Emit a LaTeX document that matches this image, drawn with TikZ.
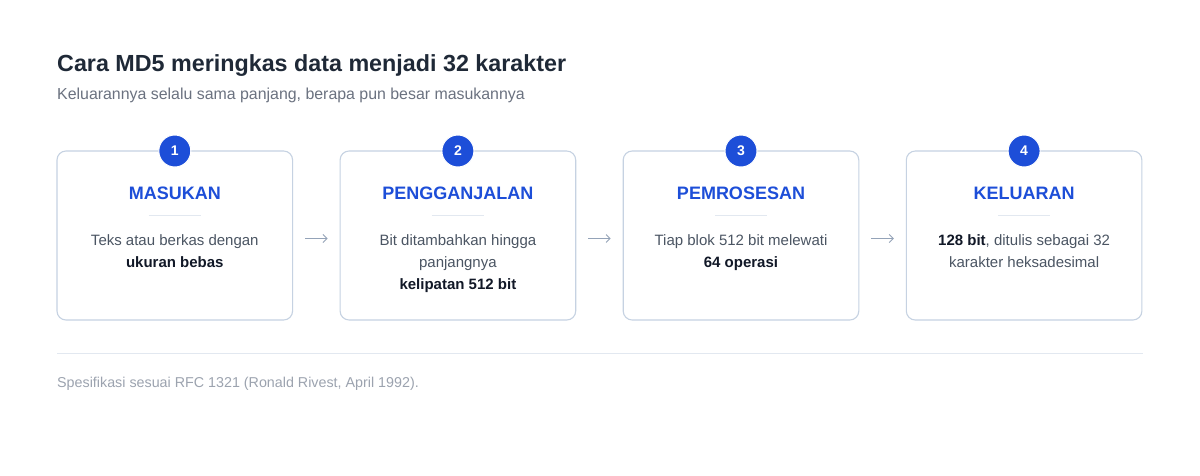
\documentclass[tikz,border=0pt]{standalone}
\usepackage{fontspec}
\setmainfont{Liberation Sans}
\usetikzlibrary{arrows.meta,positioning}

\definecolor{inkdark}{HTML}{1F2937}
\definecolor{inkgray}{HTML}{6B7280}
\definecolor{inkbody}{HTML}{4B5563}
\definecolor{inkbold}{HTML}{111827}
\definecolor{inkfoot}{HTML}{9CA3AF}
\definecolor{mdblue}{HTML}{1D4ED8}
\definecolor{cardline}{HTML}{C6D2E2}
\definecolor{ruleline}{HTML}{E2E8F0}
\definecolor{arrowgray}{HTML}{94A3B8}

\tikzset{
  card/.style={rectangle, draw=cardline, line width=1.1pt, rounded corners=9pt,
    minimum width=235.6pt, minimum height=169pt, inner sep=0pt, outer sep=0pt},
  badge/.style={circle, fill=mdblue, draw=white, line width=1pt, minimum size=32pt,
    inner sep=0pt, text=white, font=\fontsize{14}{16}\selectfont\bfseries},
  head/.style={anchor=base, inner sep=0pt, text=mdblue,
    font=\fontsize{18}{20}\selectfont\bfseries},
  body/.style={anchor=base, inner sep=0pt, text=inkbody, align=center,
    font=\fontsize{15}{22}\selectfont},
  flow/.style={draw=arrowgray, line width=0.9pt, -{Straight Barb[length=4pt,width=8pt]},
    shorten <=12.5pt, shorten >=12.5pt},
}

\begin{document}
\begin{tikzpicture}[x=1pt,y=-1pt]
  \useasboundingbox[fill=white] (0,0) rectangle (1200,475);

  % title
  \node[anchor=base west, inner sep=0pt, text=inkdark,
    font=\fontsize{23.3}{26}\selectfont\bfseries] (title) at (57,71.5)
    {Cara MD5 meringkas data menjadi 32 karakter};
  \node[anchor=base west, inner sep=0pt, text=inkgray,
    font=\fontsize{15.9}{18}\selectfont] (subtitle) at (57,99)
    {Keluarannya selalu sama panjang, berapa pun besar masukannya};

  % cards
  \node[card] (c1) at (174.8,235.5) {};
  \node[card] (c2) [right=47.5pt of c1] {};
  \node[card] (c3) [right=47.5pt of c2] {};
  \node[card] (c4) [right=47.5pt of c3] {};

  \foreach \i/\h in {1/MASUKAN,2/PENGGANJALAN,3/PEMROSESAN,4/KELUARAN}{
    \node[badge] (b\i) at (c\i.north) {\i};
    \node[head] (h\i) at ([yshift=-48.3pt]c\i.north) {\h};
    \draw[ruleline, line width=1pt] ([xshift=-26pt,yshift=-64pt]c\i.north)
      -- ([xshift=26pt,yshift=-64pt]c\i.north);
  }

  % body text (base = last line)
  \node[body] (t1) at ([yshift=-116pt]c1.north)
    {Teks atau berkas dengan\\\textcolor{inkbold}{\bfseries ukuran bebas}};
  \node[body] (t2) at ([yshift=-138pt]c2.north)
    {Bit ditambahkan hingga\\panjangnya\\\textcolor{inkbold}{\bfseries kelipatan 512 bit}};
  \node[body] (t3) at ([yshift=-116pt]c3.north)
    {Tiap blok 512 bit melewati\\\textcolor{inkbold}{\bfseries 64 operasi}};
  \node[body] (t4) at ([yshift=-116pt]c4.north)
    {\textcolor{inkbold}{\bfseries 128 bit}, ditulis sebagai 32\\karakter heksadesimal};

  % arrows between cards
  \foreach \a/\b in {c1/c2,c2/c3,c3/c4}
    \draw[flow] ([yshift=-3pt]\a.east) -- ([yshift=-3pt]\b.west);

  % footer
  \coordinate (rl) at (57,353);
  \coordinate (rr) at (1143,353);
  \draw[ruleline, line width=1pt] (rl) -- (rr);
  \node[anchor=base west, inner sep=0pt, text=inkfoot,
    font=\fontsize{14.3}{16}\selectfont] (foot) at (57,387)
    {Spesifikasi sesuai RFC 1321 (Ronald Rivest, April 1992).};
\end{tikzpicture}
\end{document}
